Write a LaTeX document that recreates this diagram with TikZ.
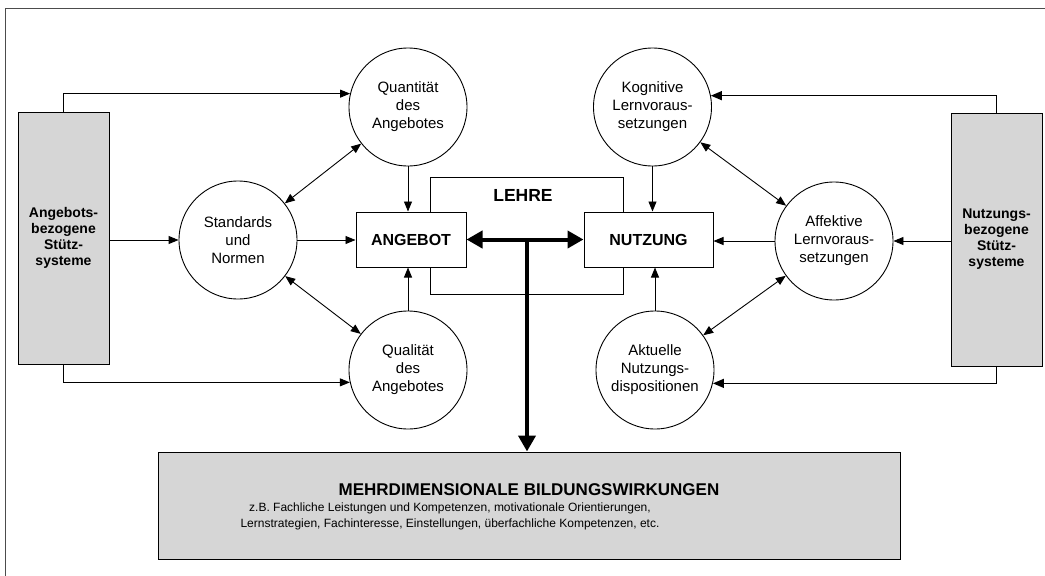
\documentclass[tikz,border=0pt]{standalone}
\usepackage{fontspec}
\setmainfont{Liberation Sans}
\usetikzlibrary{arrows.meta,calc}
\begin{document}
\begin{tikzpicture}[x=1pt,y=-1pt,
  circ/.style={draw,circle,line width=0.9pt,minimum size=118pt,inner sep=0pt,align=center,
    font=\fontsize{15}{18}\selectfont},
  bigbox/.style={draw,line width=1pt,fill=white,inner sep=0pt,font=\fontsize{16}{19}\selectfont\bfseries},
  sidebox/.style={draw,line width=1pt,fill=black!16,inner sep=0pt,align=center,
    font=\fontsize{14}{16}\selectfont\bfseries},
  arr/.style={line width=0.9pt,-{Triangle[length=10pt,width=8pt]}},
  darr/.style={line width=0.9pt,{Triangle[length=10pt,width=8pt]}-{Triangle[length=10pt,width=8pt]}},
  rarr/.style={line width=1.4pt,-{Triangle[length=11pt,width=9pt]}},
  thickarr/.style={line width=4pt,-{Triangle[length=16pt,width=17pt]}},
  dthickarr/.style={line width=4pt,{Triangle[length=16pt,width=17pt]}-{Triangle[length=16pt,width=17pt]}}
]
\useasboundingbox (0,0) rectangle (1045,576);
% outer frame (partly visible)
\draw[line width=0.8pt,black!70] (5,576) -- (5,8) -- (1045,8);

% LEHRE frame
\node[draw,line width=1pt,minimum width=193pt,minimum height=117pt,inner sep=0pt] (lehre) at (526.5,235.5) {};
\node[font=\fontsize{17.5}{20}\selectfont\bfseries] (lehretext) at (523,195) {LEHRE};

% boxes
\node[bigbox,minimum width=110pt,minimum height=55pt] (ang) at (411,239.5) {ANGEBOT};
\node[bigbox,minimum width=129pt,minimum height=55pt] (nu) at (648.5,239.5) {NUTZUNG};

\node[sidebox,minimum width=91pt,minimum height=252pt] (lb) at (63.5,238) {Angebots-\\bezogene\\Stütz-\\systeme};
\node[sidebox,minimum width=91pt,minimum height=253pt] (rb) at (996.5,239.5) {Nutzungs-\\bezogene\\Stütz-\\systeme};

\node[draw,line width=1pt,fill=black!16,minimum width=742pt,minimum height=107pt,inner sep=0pt] (bb) at (529,505.5) {};
\node[font=\fontsize{17}{20}\selectfont\bfseries,inner sep=0pt] (bbtitle) at (529,490) {MEHRDIMENSIONALE BILDUNGSWIRKUNGEN};
\node[font=\fontsize{12}{16}\selectfont,align=center,inner sep=0pt] (bbtext) at (450,516)
  {z.B. Fachliche Leistungen und Kompetenzen, motivationale Orientierungen,\\
   Lernstrategien, Fachinteresse, Einstellungen, überfachliche Kompetenzen, etc.};

% circles
\node[circ] (q)  at (408,107) {Quantität\\des\\Angebotes};
\node[circ] (s)  at (238,240) {Standards\\und\\Normen};
\node[circ] (ql) at (408,370) {Qualität\\des\\Angebotes};
\node[circ] (k)  at (652.5,107) {Kognitive\\Lernvoraus-\\setzungen};
\node[circ] (af) at (834,241) {Affektive\\Lernvoraus-\\setzungen};
\node[circ] (ak) at (655,370) {Aktuelle\\Nutzungs-\\dispositionen};

% left side connectors
\draw[arr] (lb.north) |- (q.167);
\draw[arr] (lb.south) |- (ql.192);
\draw[arr] (lb.east |- s) -- (s);
\draw[arr] (s) -- (s -| ang.west);
\draw[arr] (q) -- (q |- ang.north);
\draw[arr] (ql) -- (ql |- ang.south);
\draw[darr] (q) -- (s);
\draw[darr] (s) -- (ql);

% right side connectors
\draw[rarr] (rb.north) |- (k.11);
\draw[rarr] (rb.south) |- (ak.-13);
\draw[arr] (rb.west |- af) -- (af);
\draw[arr] (af) -- (af -| nu.east);
\draw[arr] (k) -- (k |- nu.north);
\draw[arr] (ak) -- (ak |- nu.south);
\draw[darr] (k) -- (af);
\draw[darr] (af) -- (ak);

% thick arrows
\coordinate (mid) at (527,239.5);
\draw[dthickarr] (ang) -- (nu);
\draw[thickarr] ([yshift=-2pt]mid) -- (mid |- bb.north);
\end{tikzpicture}
\end{document}
